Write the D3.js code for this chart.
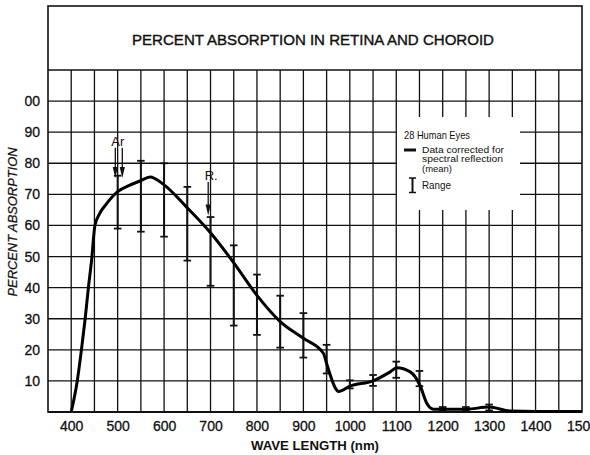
<!DOCTYPE html>
<html>
<head>
<meta charset="utf-8">
<script src="https://cdn.jsdelivr.net/npm/d3@7"></script>
<style>
  body { margin: 0; background: #fff; }
  svg { display: block; font-family: "Liberation Sans", Arial, sans-serif; }
</style>
</head>
<body>
<svg id="chart" width="590" height="455"></svg>
<script>
// Mean curve (corrected for spectral reflection)
const meanNm  = [400, 413, 422, 430, 437, 444, 451, 460, 475, 500, 525, 548, 570, 598, 649, 699, 749, 800, 850, 900, 943, 950, 972, 976, 1000, 1050, 1087, 1101, 1130, 1151, 1166, 1180, 1200, 1250, 1300, 1345, 1400, 1500];
const meanPct = [0, 10, 20, 30, 40, 49, 60, 63.5, 66.8, 70.9, 72.9, 74.3, 75.6, 73.3, 65.8, 57.8, 48.2, 37.5, 29.1, 23.7, 18.9, 15.6, 7.0, 6.6, 8.3, 10.0, 12.9, 14.2, 12.9, 8.6, 2.7, 0.9, 0.9, 0.9, 1.6, 0.3, 0.2, 0.2];

// Range bars (28 human eyes)
const rangeNm   = [500, 550, 600, 650, 700, 750, 800, 850, 900, 950, 1000, 1050, 1100, 1150, 1200, 1250, 1300];
const rangeLow  = [59, 58, 56.4, 48.7, 40.6, 27.8, 24.8, 20.7, 17.5, 12.4, 7.6, 8.4, 11, 8.3, 0.4, 0.4, 0.5];
const rangeHigh = [76, 80.8, 80, 72.4, 62.7, 53.6, 44.2, 37.4, 31.8, 21.6, 10.2, 11.9, 16.2, 13.2, 1.6, 1.6, 2.4];

// Laser line markers
const markerLabel = ['Ar', 'R.'];
const markerNm    = [[495, 510], [695]];
const markerTop   = [85, 74];
const markerTip   = [75.3, 63.2];

const xTicks = [400, 500, 600, 700, 800, 900, 1000, 1100, 1200, 1300, 1400, 1500];
const yTicks = [10, 20, 30, 40, 50, 60, 70, 80, 90, 100];

const svg = d3.select('#chart');
const mLeft = 48, mRight = 582, mTop = 6, mBottom = 412;

const x = d3.scaleLinear().domain([350, 1500]).range([mLeft, mRight]);
const y = d3.scaleLinear().domain([0, 110]).range([mBottom, 70]);

// Grid
const grid = svg.append('g').attr('stroke', '#111').attr('stroke-width', 1.3);
grid.selectAll('.vx')
    .data(d3.range(400, 1500, 50))
    .enter().append('line')
    .attr('x1', d => x(d)).attr('x2', d => x(d))
    .attr('y1', y(110)).attr('y2', y(0));
grid.selectAll('.hy')
    .data(d3.range(10, 110, 10))
    .enter().append('line')
    .attr('x1', mLeft).attr('x2', mRight)
    .attr('y1', d => y(d)).attr('y2', d => y(d));

// Frame and title box
svg.append('rect')
    .attr('x', mLeft).attr('y', mTop)
    .attr('width', mRight - mLeft).attr('height', mBottom - mTop)
    .attr('fill', 'none').attr('stroke', '#111').attr('stroke-width', 1.6);
svg.append('line')
    .attr('x1', mLeft).attr('x2', mRight)
    .attr('y1', y(110)).attr('y2', y(110))
    .attr('stroke', '#111').attr('stroke-width', 1.6);
svg.append('line')
    .attr('x1', mLeft).attr('x2', mRight)
    .attr('y1', y(0)).attr('y2', y(0))
    .attr('stroke', '#111').attr('stroke-width', 2);

svg.append('text')
    .attr('x', 313).attr('y', 44.5)
    .attr('text-anchor', 'middle')
    .attr('textLength', 362).attr('lengthAdjust', 'spacingAndGlyphs')
    .style('font-size', '15.5px')
    .attr('fill', '#111').attr('stroke', '#111').attr('stroke-width', 0.4)
    .text('PERCENT ABSORPTION IN RETINA AND CHOROID');

// Legend box (white patch over the grid)
const lg = svg.append('g');
lg.append('rect')
    .attr('x', 397).attr('y', 117).attr('width', 123).attr('height', 93)
    .attr('fill', '#fff');
lg.append('text').attr('x', 404).attr('y', 138.5)
    .attr('textLength', 66).attr('lengthAdjust', 'spacingAndGlyphs')
    .style('font-size', '10.5px').attr('fill', '#111').text('28 Human Eyes');
lg.append('line').attr('x1', 404).attr('x2', 416).attr('y1', 150).attr('y2', 150)
    .attr('stroke', '#111').attr('stroke-width', 3);
const legLines = ['Data corrected for', 'spectral reflection', '(mean)'];
const legLen = [82, 81, 30];
legLines.forEach((t, i) => {
    lg.append('text').attr('x', 422).attr('y', 152.6 + i * 9.8)
        .attr('textLength', legLen[i]).attr('lengthAdjust', 'spacingAndGlyphs')
        .style('font-size', '9.4px').attr('fill', '#111').text(t);
});
lg.append('line').attr('x1', 412.5).attr('x2', 412.5).attr('y1', 178).attr('y2', 192.5)
    .attr('stroke', '#111').attr('stroke-width', 2);
[178, 192.5].forEach(v => lg.append('line')
    .attr('x1', 409).attr('x2', 416).attr('y1', v).attr('y2', v)
    .attr('stroke', '#111').attr('stroke-width', 1.5));
lg.append('text').attr('x', 422).attr('y', 189)
    .attr('textLength', 29).attr('lengthAdjust', 'spacingAndGlyphs')
    .style('font-size', '10.5px').attr('fill', '#111').text('Range');

// Range bars
const bars = svg.append('g').attr('stroke', '#111');
bars.selectAll('.bar')
    .data(rangeNm)
    .enter().append('line')
    .attr('x1', d => x(d)).attr('x2', d => x(d))
    .attr('y1', (d, i) => y(rangeLow[i])).attr('y2', (d, i) => y(rangeHigh[i]))
    .attr('stroke-width', 2);
bars.selectAll('.capLo')
    .data(rangeNm)
    .enter().append('line')
    .attr('x1', d => x(d) - 3.8).attr('x2', d => x(d) + 3.8)
    .attr('y1', (d, i) => y(rangeLow[i])).attr('y2', (d, i) => y(rangeLow[i]))
    .attr('stroke-width', 1.8);
bars.selectAll('.capHi')
    .data(rangeNm)
    .enter().append('line')
    .attr('x1', d => x(d) - 3.8).attr('x2', d => x(d) + 3.8)
    .attr('y1', (d, i) => y(rangeHigh[i])).attr('y2', (d, i) => y(rangeHigh[i]))
    .attr('stroke-width', 1.8);

// Mean curve
const line = d3.line()
    .x(d => x(d[0]))
    .y(d => y(d[1]))
    .curve(d3.curveMonotoneX);
svg.append('path')
    .datum(meanNm.map((d, i) => [d, meanPct[i]]))
    .attr('d', line)
    .attr('fill', 'none')
    .attr('stroke', '#000')
    .attr('stroke-width', 3)
    .attr('stroke-linejoin', 'round');

// Laser markers (arrows)
markerLabel.forEach((lab, k) => {
    const g = svg.append('g');
    markerNm[k].forEach(nm => {
        const xp = x(nm), y0 = y(markerTop[k]), y1 = y(markerTip[k]);
        g.append('line').attr('x1', xp).attr('x2', xp).attr('y1', y0).attr('y2', y1 - 6)
            .attr('stroke', '#111').attr('stroke-width', 1.3);
        g.append('path')
            .attr('d', `M${xp - 2.6},${y1 - 11}L${xp + 2.6},${y1 - 11}L${xp},${y1}Z`)
            .attr('fill', '#111');
    });
    const cx = d3.mean(markerNm[k], d => x(d));
    g.append('text')
        .attr('x', cx + (k === 1 ? 3 : -1)).attr('y', y(markerTop[k]) - 2)
        .attr('text-anchor', 'middle')
        .style('font-size', '13px').attr('fill', '#111')
        .text(lab);
});

// Axes labels (the "1" of 100 is trimmed off by the scan edge in the source)
svg.append('clipPath').attr('id', 'ylab-clip')
    .append('rect').attr('x', 24.5).attr('y', 0).attr('width', 30).attr('height', 455);

const yAxis = svg.append('g')
    .attr('clip-path', 'url(#ylab-clip)')
    .append('g')
    .attr('transform', `translate(${mLeft - 8},0)`)
    .call(d3.axisLeft(y).tickValues(yTicks).tickSize(0).tickPadding(0));
yAxis.select('.domain').remove();
yAxis.selectAll('text')
    .style('font-size', '14px')
    .style('font-family', '"Liberation Sans", Arial, sans-serif')
    .attr('fill', '#111').attr('stroke', '#111').attr('stroke-width', 0.3);

const xAxis = svg.append('g')
    .attr('transform', `translate(0,${mBottom})`)
    .call(d3.axisBottom(x).tickValues(xTicks).tickFormat(d3.format('d')).tickSize(0).tickPadding(9));
xAxis.select('.domain').remove();
xAxis.selectAll('text')
    .style('font-size', '14px')
    .style('font-family', '"Liberation Sans", Arial, sans-serif')
    .attr('fill', '#111').attr('stroke', '#111').attr('stroke-width', 0.3);

svg.append('text')
    .attr('x', 315).attr('y', 450)
    .attr('text-anchor', 'middle')
    .attr('textLength', 128).attr('lengthAdjust', 'spacingAndGlyphs')
    .style('font-size', '12px').style('font-weight', 'bold')
    .attr('fill', '#111')
    .text('WAVE LENGTH (nm)');

svg.append('text')
    .attr('transform', 'translate(17,222) rotate(-90)')
    .attr('text-anchor', 'middle')
    .attr('textLength', 149).attr('lengthAdjust', 'spacingAndGlyphs')
    .style('font-size', '13.5px').style('font-style', 'italic')
    .attr('fill', '#111').attr('stroke', '#111').attr('stroke-width', 0.25)
    .text('PERCENT ABSORPTION');
</script>
</body>
</html>
